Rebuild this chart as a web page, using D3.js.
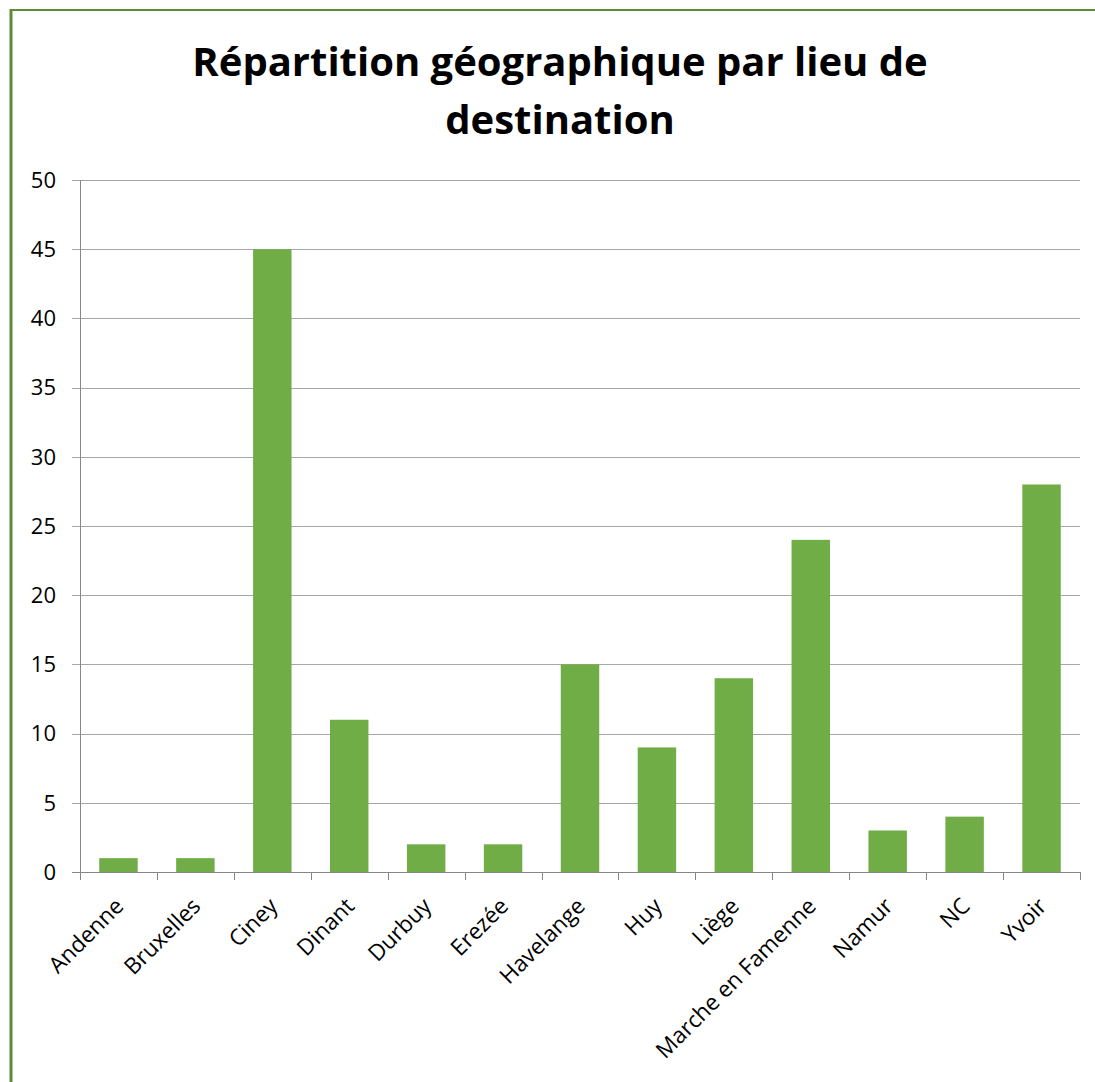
<!DOCTYPE html>
<html lang="fr">
<head>
<meta charset="UTF-8">
<title>Répartition géographique</title>
<style>
body { margin: 0; background: #fff; }
text { font-family: 'Open Sans', sans-serif; fill: #000; }
.title { font-size: 40px; font-weight: 700; }
.axis text { font-size: 22px; }
.axis.xlab text { font-size: 22.5px; }
</style>
</head>
<body>
<div id="vis"></div>
<script src="https://d3js.org/d3.v7.min.js"></script>
<script>
const categories = ["Andenne", "Bruxelles", "Ciney", "Dinant", "Durbuy", "Erezée", "Havelange", "Huy", "Liège", "Marche en Famenne", "Namur", "NC", "Yvoir"];
const values = [1, 1, 45, 11, 2, 2, 15, 9, 14, 24, 3, 4, 28];
const yTicks = [0, 5, 10, 15, 20, 25, 30, 35, 40, 45, 50];
const titleLines = ["Répartition géographique par lieu de", "destination"];

const width = 1095;
const height = 1082;
const plotLeft = 80, plotRight = 1080, plotTop = 180, plotBottom = 872;

let svg = d3.select("#vis").append("svg")
    .attr("width", width)
    .attr("height", height);

// green frame (left and top only visible)
svg.append("line")
    .attr("x1", 11).attr("x2", 11).attr("y1", 9).attr("y2", height)
    .attr("stroke", "#5b8c39").attr("stroke-width", 3);
svg.append("line")
    .attr("x1", 10).attr("x2", width).attr("y1", 10).attr("y2", 10)
    .attr("stroke", "#5b8c39").attr("stroke-width", 2);

svg.selectAll(".title")
    .data(titleLines)
    .enter().append("text")
    .attr("class", "title")
    .attr("x", 560)
    .attr("y", function(d, i){ return 76 + i * 58; })
    .attr("text-anchor", "middle")
    .text(function(d){ return d; });

let xScale = d3.scaleBand()
    .domain(categories)
    .range([plotLeft, plotRight])
    .paddingInner(0.5)
    .paddingOuter(0.25);

let yScale = d3.scaleLinear()
    .domain([0, 50])
    .range([plotBottom, plotTop]);

// gridlines
svg.append("g")
  .selectAll("line")
  .data(yTicks)
  .enter().append("line")
    .attr("x1", plotLeft - 8)
    .attr("x2", plotRight)
    .attr("y1", function(d){ return Math.round(yScale(d)) + 0.5; })
    .attr("y2", function(d){ return Math.round(yScale(d)) + 0.5; })
    .attr("stroke", "#a6a6a6")
    .attr("stroke-width", 1);

// y axis labels
svg.append("g")
  .attr("class", "axis")
  .selectAll("text")
  .data(yTicks)
  .enter().append("text")
    .attr("x", 56)
    .attr("y", function(d){ return yScale(d); })
    .attr("dy", "0.35em")
    .attr("text-anchor", "end")
    .text(function(d){ return d; });

// bars
svg.append("g")
  .selectAll("rect")
  .data(values)
  .enter().append("rect")
    .attr("x", function(d, i){ return xScale(categories[i]); })
    .attr("y", function(d){ return yScale(d); })
    .attr("width", xScale.bandwidth())
    .attr("height", function(d){ return yScale(0) - yScale(d); })
    .attr("fill", "#70ad47");

// y axis line
svg.append("line")
    .attr("x1", plotLeft + 0.5).attr("x2", plotLeft + 0.5)
    .attr("y1", plotTop).attr("y2", plotBottom)
    .attr("stroke", "#868686");

// x axis line and ticks
let step = xScale.step();
svg.append("line")
    .attr("x1", plotLeft - 8).attr("x2", plotRight)
    .attr("y1", plotBottom + 0.5).attr("y2", plotBottom + 0.5)
    .attr("stroke", "#868686");
svg.append("g")
  .selectAll("line")
  .data(d3.range(categories.length + 1))
  .enter().append("line")
    .attr("x1", function(i){ return Math.round(plotLeft + i * step) + 0.5; })
    .attr("x2", function(i){ return Math.round(plotLeft + i * step) + 0.5; })
    .attr("y1", plotBottom)
    .attr("y2", plotBottom + 8)
    .attr("stroke", "#868686");

// x labels rotated
svg.append("g")
  .attr("class", "axis xlab")
  .selectAll("text")
  .data(categories)
  .enter().append("text")
    .attr("transform", function(d){
      let cx = xScale(d) + xScale.bandwidth() / 2 + 1;
      return "translate(" + cx + "," + (plotBottom + 30) + ") rotate(-45)";
    })
    .attr("text-anchor", "end")
    .attr("dy", "0.35em")
    .text(function(d){ return d; });
</script>
</body>
</html>
